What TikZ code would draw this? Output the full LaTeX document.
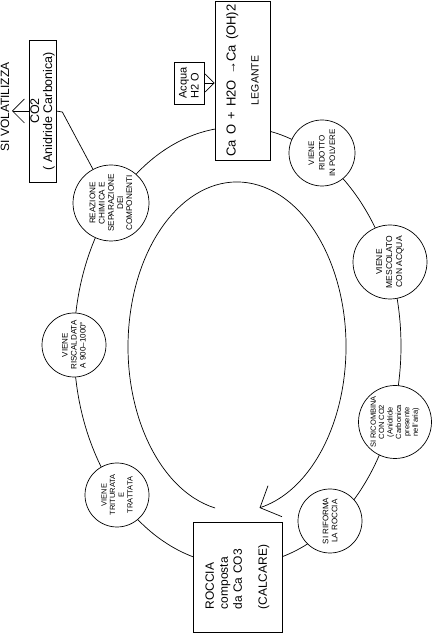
\documentclass[tikz,border=0pt]{standalone}
\usepackage{fontspec}
\setmainfont{Liberation Sans}
\usetikzlibrary{arrows.meta}
\begin{document}
\begin{tikzpicture}[x=1pt,y=1pt,
  line width=0.7pt,
  stage/.style={draw, circle, fill=white, inner sep=0pt, rotate=90, align=center},
  boxnode/.style={draw, rectangle, fill=white, inner sep=0pt, rotate=90},
  barbtip/.style={-{Straight Barb[length=#1, width=2*#1]}},
]
\useasboundingbox (0,0) rectangle (434,633);
% outer cycle
\draw (237.5,287) ellipse [x radius=163.5pt, y radius=219pt];
% inner arrow
\coordinate (itip) at (260.0,125.3);
\draw (215.1,125.0) arc [start angle=258.4, end angle=-77.8, x radius=109pt, y radius=164.7pt];
\draw (itip) ++(8,22) -- (itip) -- ++(22,-9);

% boxes
\node[boxnode, minimum width=159pt, minimum height=55pt, align=center,
      font=\fontsize{13}{15}\selectfont] (cao) at (242.5,552.5)
      {\spaceskip=0.4em Ca O + H2O →Ca (OH)2\\[8pt]{\fontsize{10.5}{12}\selectfont LEGANTE}};
\node[boxnode, minimum width=42pt, minimum height=30pt, align=left,
      font=\fontsize{11}{12}\selectfont] (acq) at (189,550) {Acqua\\H2 O};
\node[boxnode, minimum width=142pt, minimum height=27pt, align=center,
      font=\fontsize{12.5}{13}\selectfont] (co2) at (42.5,522) {CO2\\( Anidride Carbonica)};
\node[boxnode, minimum width=110pt, minimum height=89pt, align=left,
      font=\fontsize{12}{14}\selectfont] (roc) at (237.5,56)
      {ROCCIA\\composta\\da Ca CO3\\[11pt](CALCARE)};

% stages
\node[stage, minimum size=76pt, font=\fontsize{8.2}{9.2}\selectfont] (reaz) at (111,430)
  {REAZIONE\\CHIMICA E\\SEPARAZIONE\\DEI\\COMPONENTI};
\node[stage, minimum size=64pt, font=\fontsize{8}{9}\selectfont] (risc) at (74,288)
  {VIENE\\RISCALDATA\\A 900--1000°};
\node[stage, minimum size=64pt, font=\fontsize{7.5}{8.7}\selectfont] (trit) at (117,138)
  {VIENE\\TRITURATA\\E\\TRATTATA};
\node[stage, minimum size=66pt, font=\fontsize{8}{10.5}\selectfont] (rid) at (322,480)
  {VIENE\\RIDOTTO\\IN POLVERE};
\node[stage, minimum size=74pt, font=\fontsize{8.5}{10}\selectfont] (mesc) at (390,371)
  {VIENE\\MESCOLATO\\CON ACQUA};
\node[stage, minimum size=73pt, font=\fontsize{7.5}{8.4}\selectfont] (ricomb) at (395,211)
  {SI RICOMBINA\\CON CO2\\(Anidride\\Carbonica\\presente\\nell'aria)};
\node[stage, minimum size=64pt, font=\fontsize{8}{9}\selectfont] (rif) at (330,112)
  {SI RIFORMA\\LA ROCCIA};

% free text
\node[rotate=90, inner sep=0pt, font=\fontsize{12}{14}\selectfont] (vol) at (5,526) {SI VOLATILIZZA};
\coordinate (volT) at (12,522);

% connectors
\draw[barbtip=12pt] (co2.north) -- (volT);
\draw[barbtip=9pt] (acq.south) -- (acq.south -| cao.north);
\draw (co2.south) -- ++(6,-1) -- (reaz);
\end{tikzpicture}
\end{document}
